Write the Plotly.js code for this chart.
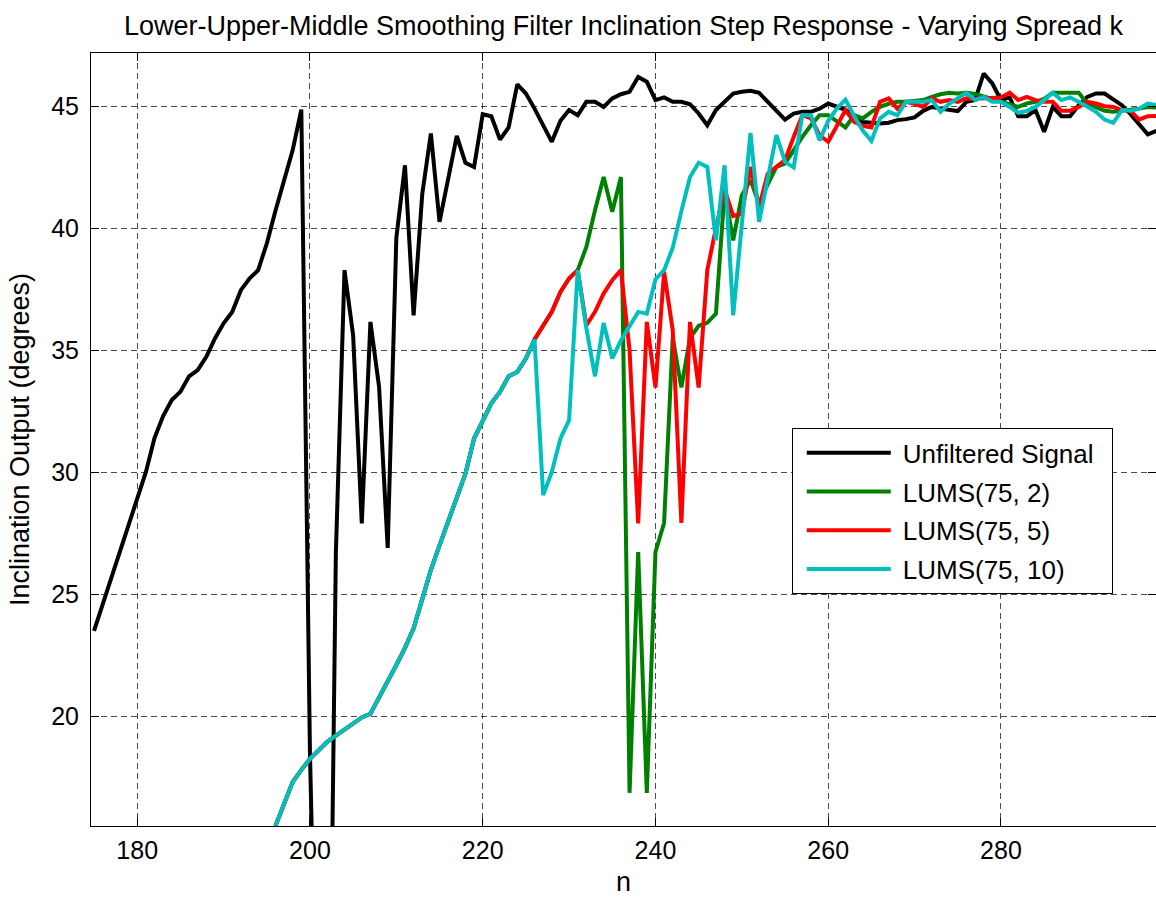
<!DOCTYPE html>
<html><head><meta charset="utf-8">
<script src="https://cdn.plot.ly/plotly-3.0.1.min.js"></script>
<style>html,body{margin:0;padding:0;background:#fff}#chart{width:1156px;height:897px}</style>
</head><body><div id="chart"></div>
<script>
// sample index ranges
const unfilteredStartN = 175;
const filteredStartN = 196;

const unfiltered = [
23.5,24.6,25.7,26.8,27.8,28.9,30.0,31.4,32.3,32.96,
33.3,33.93,34.18,34.73,35.48,36.1,36.57,37.46,37.94,38.28,
39.37,40.7,42.0,43.2,44.86,18.5,3,-2,26.7,38.28,
35.6,27.9,36.16,33.5,26.9,39.6,42.58,36.43,41.4,43.88,
40.26,41.97,43.78,42.68,42.51,44.67,44.59,43.63,44.13,45.89,
45.52,44.9,44.2,43.54,44.4,44.84,44.63,45.18,45.18,44.97,
45.32,45.49,45.59,46.2,46.0,45.25,45.36,45.18,45.18,45.08,
44.7,44.22,44.84,45.18,45.52,45.59,45.63,45.55,45.18,44.86,
44.45,44.7,44.77,44.77,44.9,45.11,44.97,44.85,44.6,44.35,
44.32,44.29,44.32,44.43,44.47,44.54,44.81,44.97,44.9,44.85,
44.8,45.18,45.25,46.34,45.93,45.25,45.36,44.59,44.59,44.84,
43.95,44.97,44.59,44.59,45.04,45.38,45.52,45.52,45.27,45.04,
44.67,44.29,43.85,43.99];

// n = 196 .. 298
const lums75_2 = [
15.5,16.4,17.3,17.8,18.25,18.6,18.95,19.2,19.45,19.75,
19.95,20.1,20.75,21.4,22.1,22.8,23.6,24.8,26.0,27.0,
28.0,28.9,29.94,31.38,32.13,32.82,33.29,33.93,34.11,34.66,
35.44,36.02,36.57,37.39,37.94,38.28,39.23,40.74,42.1,40.67,
42.1,16.86,26.73,16.86,26.73,27.92,35.52,33.47,35.5,36.0,
36.12,36.5,41.5,39.5,41.35,41.97,41.0,41.8,42.51,42.65,
43.2,43.74,44.22,44.63,44.63,44.4,44.13,44.63,44.5,44.77,
44.97,45.1,45.18,45.18,45.2,45.25,45.38,45.49,45.55,45.52,
45.55,45.5,45.4,45.3,45.2,45.11,44.97,45.11,45.18,45.3,
45.55,45.55,45.55,45.55,45.11,44.95,44.81,44.77,44.8,44.85,
44.9,44.97,44.95];

const lums75_5 = [
15.5,16.4,17.3,17.8,18.25,18.6,18.95,19.2,19.45,19.75,
19.95,20.1,20.75,21.4,22.1,22.8,23.6,24.8,26.0,27.0,
28.0,28.9,29.94,31.38,32.13,32.82,33.29,33.93,34.11,34.66,
35.44,36.02,36.57,37.39,37.94,38.28,36.02,36.57,37.32,37.87,
38.28,35.0,27.9,36.16,33.47,38.21,35.82,27.92,36.16,33.47,
38.28,40.0,41.6,40.5,40.6,42.51,40.87,42.24,42.5,42.79,
43.74,44.63,44.5,43.81,43.54,44.22,44.84,44.36,44.2,44.13,
45.18,45.32,44.9,45.18,45.1,44.97,45.32,45.18,45.25,45.18,
45.32,45.3,45.32,45.3,45.36,45.55,45.25,45.38,45.25,45.18,
45.18,44.81,44.81,44.97,45.18,45.11,45.0,44.97,44.84,44.81,
44.45,44.59,44.6];

const lums75_10 = [
15.5,16.4,17.3,17.8,18.25,18.6,18.95,19.2,19.45,19.75,
19.95,20.1,20.75,21.4,22.1,22.8,23.6,24.8,26.0,27.0,
28.0,28.9,29.94,31.38,32.13,32.82,33.29,33.93,34.11,34.66,
35.44,29.06,30.01,31.38,32.13,38.28,35.89,33.93,36.12,34.66,
35.4,36.02,36.57,36.5,37.9,38.28,39.2,40.7,42.1,42.68,
42.51,39.5,42.58,36.43,40.1,43.9,40.26,42.0,43.81,42.72,
42.49,44.63,44.63,43.6,44.4,44.9,45.27,44.6,44.0,43.58,
44.5,44.77,44.63,45.18,45.18,45.18,45.25,44.77,45.1,45.32,
45.55,45.25,45.38,45.18,45.18,44.97,44.73,44.81,44.97,45.25,
45.55,45.25,45.36,45.18,44.97,44.77,44.45,44.32,44.84,44.81,
44.9,45.11,45.04];

const seriesNames = ["Unfiltered Signal","LUMS(75, 2)","LUMS(75, 5)","LUMS(75, 10)"];
const seriesColors = ["#000000","#008000","#ff0000","#00bfbf"];
const xTickVals = [180,200,220,240,260,280];
const yTickVals = [20,25,30,35,40,45];

const nUnf = unfiltered.map((_, i) => unfilteredStartN + i);
const nFil = lums75_2.map((_, i) => filteredStartN + i);

const FONT = "Liberation Sans, Arial, Helvetica, sans-serif";
const ys = [unfiltered, lums75_2, lums75_5, lums75_10];
const xs = [nUnf, nFil, nFil, nFil];

const traces = ys.map((y, i) => ({
  type: "scatter", mode: "lines", x: xs[i], y: y,
  name: seriesNames[i], legendgroup: "g" + i,
  line: {color: seriesColors[i], width: 4},
  hoverinfo: "x+y+name"
}));

const layout = {
  width: 1156, height: 897,
  paper_bgcolor: "#ffffff", plot_bgcolor: "#ffffff",
  margin: {l: 91, r: 0, t: 53, b: 71, pad: 0},
  font: {family: FONT, color: "#000", size: 25},
  title: {text: "Lower-Upper-Middle Smoothing Filter Inclination Step Response - Varying Spread k",
          font: {family: FONT, size: 27, color: "#000"},
          x: 0.5, xref: "paper", xanchor: "center", y: 0.972, yref: "container", yanchor: "middle"},
  xaxis: {
    range: [174.65, 297.95], tickvals: xTickVals, ticktext: xTickVals.map(String),
    showgrid: true, gridcolor: "rgba(0,0,0,0.7)", griddash: "6px,4px", gridwidth: 1,
    showline: true, linecolor: "#000", linewidth: 1, mirror: "ticks",
    ticks: "inside", ticklen: 8, tickcolor: "#000", zeroline: false,
    tickfont: {family: FONT, size: 25, color: "#000"}, ticklabelstandoff: 2,
    title: {text: "n", font: {family: FONT, size: 27, color: "#000"}, standoff: 10}
  },
  yaxis: {
    range: [15.5, 47.18], tickvals: yTickVals, ticktext: yTickVals.map(String),
    showgrid: true, gridcolor: "rgba(0,0,0,0.7)", griddash: "6px,4px", gridwidth: 1,
    showline: true, linecolor: "#000", linewidth: 1, mirror: "ticks",
    ticks: "inside", ticklen: 8, tickcolor: "#000", zeroline: false,
    tickfont: {family: FONT, size: 25, color: "#000"}, ticklabelstandoff: 6,
    title: {text: "Inclination Output (degrees)", font: {family: FONT, size: 27, color: "#000"}, standoff: 13}
  },
  showlegend: true,
  legend: {
    x: 0.658, y: 0.5145, xanchor: "left", yanchor: "top",
    bgcolor: "#ffffff", bordercolor: "#000", borderwidth: 1,
    font: {family: FONT, size: 26, color: "#000"},
    itemwidth: 100, tracegroupgap: 2, traceorder: "grouped"
  }
};

Plotly.newPlot("chart", traces, layout, {displayModeBar: false, staticPlot: true}).then(gd => {
  // lengthen legend line samples and widen the legend box to match the reference
  document.querySelectorAll(".legend .legendlines path").forEach(p => p.setAttribute("d", "M14,0h84"));
  const bg = document.querySelector(".legend rect.bg");
  if (bg) bg.setAttribute("width", 320);
});
</script>
</body></html>
